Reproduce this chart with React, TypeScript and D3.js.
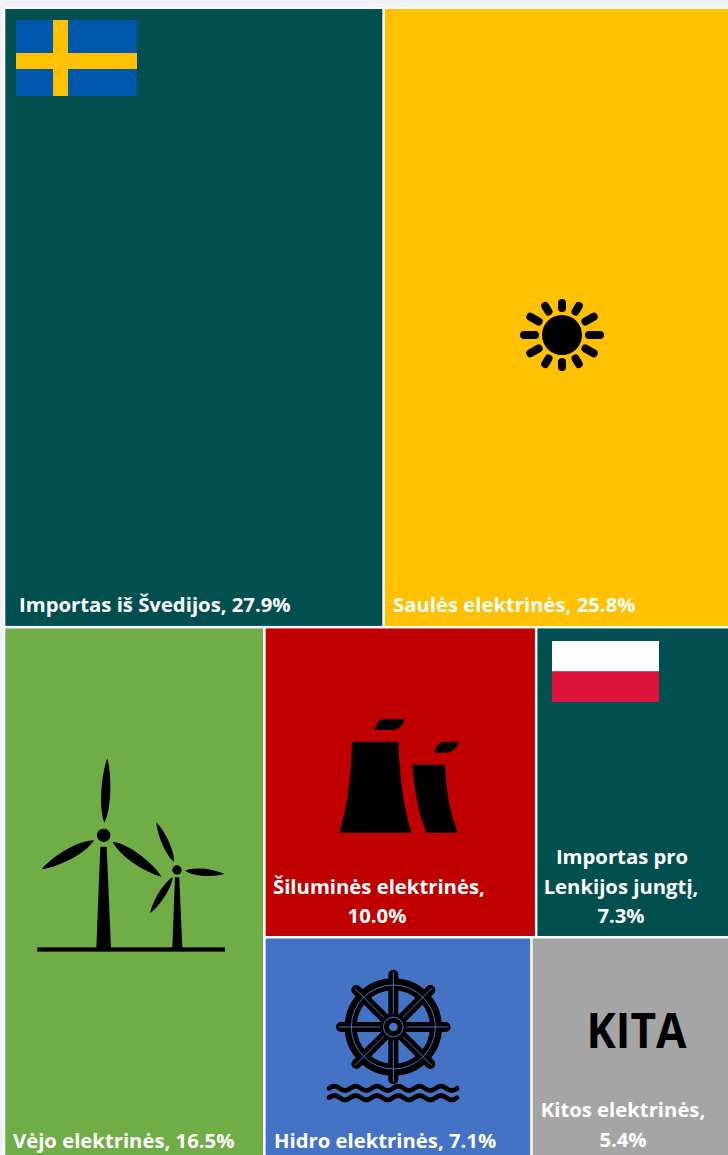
import * as d3 from "d3";

// Data
const categories = [
  "Importas iš Švedijos",
  "Saulės elektrinės",
  "Vėjo elektrinės",
  "Šiluminės elektrinės",
  "Importas pro Lenkijos jungtį",
  "Hidro elektrinės",
  "Kitos elektrinės",
];
const shares = [27.9, 25.8, 16.5, 10.0, 7.3, 7.1, 5.4];
const colors = ["#01504f", "#ffc000", "#70ad47", "#c00000", "#01504f", "#4472c4", "#a5a5a5"];
// how the cells are nested: rows, then columns, then rows, then columns
const nesting = [[0, 1], [2, [[3, 4], [5, 6]]]];

const width = 728;
const height = 1155;
const font = "'Open Sans', sans-serif";

// label lines, with anchor and baseline
const labelLines = [
  [["Importas iš Švedijos, 27.9%", 19, 612, "start"]],
  [["Saulės elektrinės, 25.8%", 393, 612, "start"]],
  [["Vėjo elektrinės, 16.5%", 13, 1148, "start"]],
  [["Šiluminės elektrinės,", 273, 894, "start"], ["10.0%", 377, 923, "middle"]],
  [["Importas pro", 622, 864, "middle"], ["Lenkijos jungtį,", 621, 894, "middle"], ["7.3%", 621, 923, "middle"]],
  [["Hidro elektrinės, 7.1%", 274, 1148, "start"]],
  [["Kitos elektrinės,", 623, 1117, "middle"], ["5.4%", 623, 1147, "middle"]],
];

function toTree(n) {
  return typeof n === "number"
    ? { id: n, value: shares[n] }
    : { children: n.map(toTree) };
}

const tile = (node, x0, y0, x1, y1) =>
  (node.depth % 2 ? d3.treemapDice : d3.treemapSlice)(node, x0, y0, x1, y1);

function blade(ax, ay, bx, by, w) {
  const dx = bx - ax;
  const dy = by - ay;
  const len = Math.hypot(dx, dy);
  const nx = (-dy / len) * w;
  const ny = (dx / len) * w;
  const p = d3.path();
  p.moveTo(ax, ay);
  p.bezierCurveTo(ax + dx * 0.2 + nx, ay + dy * 0.2 + ny, ax + dx * 0.7 + nx, ay + dy * 0.7 + ny, bx, by);
  p.bezierCurveTo(ax + dx * 0.7 - nx, ay + dy * 0.7 - ny, ax + dx * 0.2 - nx, ay + dy * 0.2 - ny, ax, ay);
  return p.toString();
}

function Sun() {
  return (
    <g transform="translate(562,335)">
      <circle r={20} fill="#000" />
      {d3.range(12).map((i) => {
        const a = (i * Math.PI) / 6;
        const c = Math.cos(a);
        const s = Math.sin(a);
        const outer = Math.hypot(38 * c, 32 * s);
        return (
          <line
            key={i}
            x1={27 * c}
            y1={27 * s}
            x2={outer * c}
            y2={outer * s}
            stroke="#000"
            strokeWidth={8}
            strokeLinecap="round"
          />
        );
      })}
    </g>
  );
}

function Turbines() {
  return (
    <g transform="translate(20,740) scale(0.3333)" fill="#000">
      <rect x={52} y={622} width={563} height={13} />
      <path d="M241,320 L260,320 L273,625 L229,625 Z" />
      <circle cx={251} cy={286} r={20} />
      <path d={blade(253, 248, 262, 55, 18)} />
      <path d={blade(222, 301, 65, 388, 21)} />
      <path d={blade(278, 305, 425, 410, 21)} />
      <path d="M465,412 L478,412 L487,625 L457,625 Z" />
      <circle cx={471} cy={390} r={14} />
      <path d={blade(462, 366, 409, 247, 14)} />
      <path d={blade(495, 392, 613, 402, 14)} />
      <path d={blade(458, 412, 390, 520, 14)} />
    </g>
  );
}

function Towers() {
  return (
    <g transform="translate(320,700) scale(0.3333)" fill="#000">
      <path d="M96,125 L235,125 Q240,290 274,398 L58,398 Q92,290 96,125 Z" />
      <path d="M277,194 L375,194 Q378,310 413,398 L318,398 Q285,310 277,194 Z" />
      <path d="M164,90 C168,70 178,57 195,57 L254,57 C248,78 235,90 215,90 Z" />
      <path d="M344,158 C348,138 358,125 375,125 L416,125 C410,146 397,158 378,158 Z" />
    </g>
  );
}

function Wheel({ bg }) {
  const spokes = d3.range(8).map((i) => (i * Math.PI) / 4);
  const wave = (y) => {
    const p = d3.path();
    p.moveTo(42, y);
    for (let i = 0; i < 6; i++) {
      const x = 42 + i * 64;
      p.quadraticCurveTo(x + 16, y - 13, x + 32, y);
      p.quadraticCurveTo(x + 48, y + 13, x + 64, y);
    }
    return p.toString();
  };
  return (
    <g transform="translate(315,960) scale(0.3333)">
      <g transform="translate(235,201)">
        {spokes.map((a) => (
          <line
            key={a}
            x2={157 * Math.cos(a)}
            y2={157 * Math.sin(a)}
            stroke="#000"
            strokeWidth={30}
            strokeLinecap="round"
          />
        ))}
        <circle r={128} fill="none" stroke="#000" strokeWidth={36} />
        <circle r={126} fill="none" stroke={bg} strokeWidth={3} />
        {spokes.map((a) => (
          <line key={a} x2={165 * Math.cos(a)} y2={165 * Math.sin(a)} stroke={bg} strokeWidth={3} />
        ))}
        <circle r={40} fill="#000" />
        <circle r={31} fill={bg} />
        <circle r={28} fill="#000" />
        <circle r={13} fill={bg} />
      </g>
      <path d={wave(385)} fill="none" stroke="#000" strokeWidth={14} strokeLinecap="round" />
      <path d={wave(413)} fill="none" stroke="#000" strokeWidth={14} strokeLinecap="round" />
    </g>
  );
}

export default function App() {
  const root = d3
    .hierarchy(toTree(nesting))
    .sum((d) => d.value || 0);
  // the source is cropped on the right and at the bottom, so the layout runs past the frame
  d3.treemap().tile(tile).size([728, 1151]).paddingInner(2.5)(root);
  const leaves = root.leaves().sort((a, b) => a.data.id - b.data.id);

  return (
    <svg
      width={width}
      height={height}
      viewBox={`0 0 ${width} ${height}`}
      style={{ position: "absolute", left: 0, top: 0, display: "block" }}
    >
      <rect width={width} height={height} fill="#fff" />
      <rect width={width} height={7} fill="#eff2f6" />
      <rect width={3} height={height} fill="#eff2f6" />

      <g transform="translate(5.3,9)">
        {leaves.map((d) => (
          <rect
            key={d.data.id}
            x={d.x0}
            y={d.y0}
            width={d.x1 - d.x0}
            height={d.y1 - d.y0}
            fill={colors[d.data.id]}
          >
            <title>{categories[d.data.id]}</title>
          </rect>
        ))}
      </g>

      {/* Sweden */}
      <rect x={16} y={20} width={121} height={76} fill="#0058ad" />
      <rect x={53} y={20} width={15} height={76} fill="#ffc000" />
      <rect x={16} y={53} width={121} height={16} fill="#ffc000" />

      {/* Poland */}
      <rect x={552} y={641} width={107} height={30.5} fill="#fff" />
      <rect x={552} y={671.5} width={107} height={30.5} fill="#dc143c" />

      <Sun />
      <Turbines />
      <Towers />
      <Wheel bg={colors[5]} />

      <text
        x={636.5}
        y={1047.5}
        textAnchor="middle"
        fontFamily={font}
        fontWeight={700}
        fontSize={48}
        textLength={100}
        lengthAdjust="spacingAndGlyphs"
        fill="#000"
      >
        KITA
      </text>

      {labelLines.flat().map(([t, x, y, anchor]) => (
        <text
          key={t}
          x={x}
          y={y}
          textAnchor={anchor}
          fontFamily={font}
          fontWeight={700}
          fontSize={20.3}
          fill="#fff"
        >
          {t}
        </text>
      ))}
    </svg>
  );
}
